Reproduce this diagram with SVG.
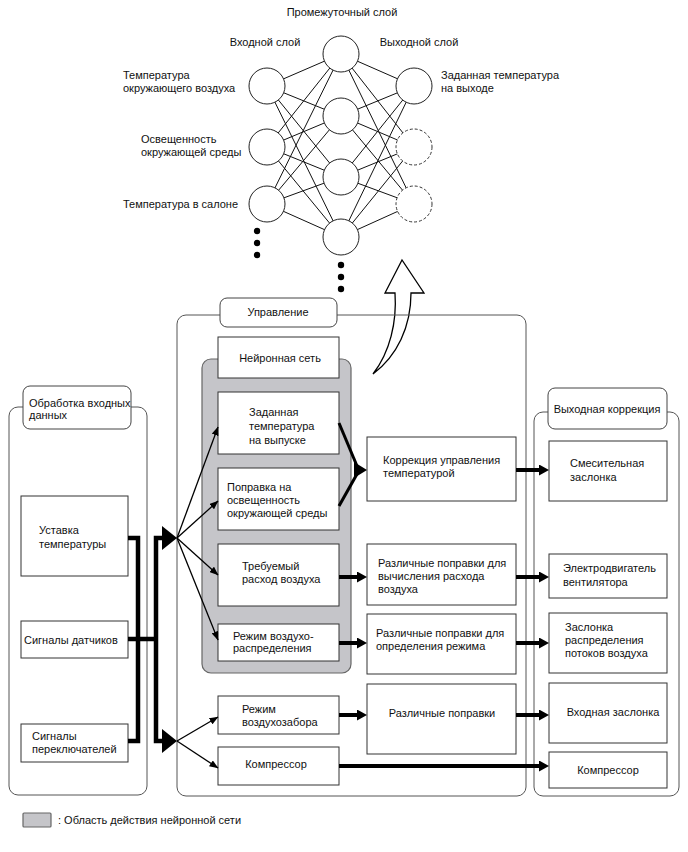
<svg xmlns="http://www.w3.org/2000/svg" width="688" height="852" viewBox="0 0 688 852">
<style>
text{font-family:"Liberation Sans",Arial,sans-serif;font-size:11px;fill:#111}
.m{text-anchor:middle}
.box{fill:#fff;stroke:#333;stroke-width:1}
.cont{fill:none;stroke:#555;stroke-width:1}
.lbl{fill:#fff;stroke:#444;stroke-width:1}
.nn{fill:#c5c5c9;stroke:#666;stroke-width:1.2}
.node{fill:#fff;stroke:#222;stroke-width:1}
.dash{fill:#fff;stroke:#333;stroke-width:1;stroke-dasharray:3,2}
.w{stroke:#111;stroke-width:1}
.thin{stroke:#000;stroke-width:1.3;fill:none;marker-end:url(#ah)}
.thick{stroke:#000;stroke-width:4;fill:none;marker-end:url(#ahk)}
.bus{stroke:#000;stroke-width:4.5;fill:none}
</style>
<defs>
<marker id="ah" markerUnits="userSpaceOnUse" markerWidth="9" markerHeight="7" refX="8.5" refY="3.5" orient="auto"><path d="M0,0 L9,3.5 L0,7 z" fill="#000"/></marker>
<marker id="ahk" markerUnits="userSpaceOnUse" markerWidth="10" markerHeight="11" refX="0" refY="5.5" orient="auto"><path d="M0,0 L10,5.5 L0,11 z" fill="#000"/></marker>
</defs>
<rect width="688" height="852" fill="#fff"/>

<!-- Neural network picture -->
<g id="nn-diagram">
<g id="nn-weights">
<line class="w" x1="267" y1="86" x2="341" y2="54"/><line class="w" x1="267" y1="86" x2="341" y2="116"/><line class="w" x1="267" y1="86" x2="341" y2="177"/><line class="w" x1="267" y1="86" x2="341" y2="237"/>
<line class="w" x1="267" y1="147" x2="341" y2="54"/><line class="w" x1="267" y1="147" x2="341" y2="116"/><line class="w" x1="267" y1="147" x2="341" y2="177"/><line class="w" x1="267" y1="147" x2="341" y2="237"/>
<line class="w" x1="267" y1="204" x2="341" y2="54"/><line class="w" x1="267" y1="204" x2="341" y2="116"/><line class="w" x1="267" y1="204" x2="341" y2="177"/><line class="w" x1="267" y1="204" x2="341" y2="237"/>
<line class="w" x1="341" y1="54" x2="414" y2="86"/><line class="w" x1="341" y1="54" x2="414" y2="147"/><line class="w" x1="341" y1="54" x2="414" y2="204"/>
<line class="w" x1="341" y1="116" x2="414" y2="86"/><line class="w" x1="341" y1="116" x2="414" y2="147"/><line class="w" x1="341" y1="116" x2="414" y2="204"/>
<line class="w" x1="341" y1="177" x2="414" y2="86"/><line class="w" x1="341" y1="177" x2="414" y2="147"/><line class="w" x1="341" y1="177" x2="414" y2="204"/>
<line class="w" x1="341" y1="237" x2="414" y2="86"/><line class="w" x1="341" y1="237" x2="414" y2="147"/><line class="w" x1="341" y1="237" x2="414" y2="204"/>
</g>
<g id="nn-input"><circle class="node" cx="267" cy="86" r="18"/><circle class="node" cx="267" cy="147" r="18"/><circle class="node" cx="267" cy="204" r="18"/>
<circle cx="257" cy="231" r="3.2" fill="#000"/><circle cx="257" cy="243" r="3.2" fill="#000"/><circle cx="257" cy="255" r="3.2" fill="#000"/></g>
<g id="nn-hidden"><circle class="node" cx="341" cy="54" r="18"/><circle class="node" cx="341" cy="116" r="18"/><circle class="node" cx="341" cy="177" r="18"/><circle class="node" cx="341" cy="237" r="18"/>
<circle cx="341" cy="265" r="3.2" fill="#000"/><circle cx="341" cy="277" r="3.2" fill="#000"/><circle cx="341" cy="289" r="3.2" fill="#000"/></g>
<g id="nn-output"><circle class="node" cx="414" cy="86" r="18"/><circle class="dash" cx="414" cy="147" r="18"/><circle class="dash" cx="414" cy="204" r="18"/></g>
<text class="m" x="342" y="16">Промежуточный слой</text>
<text class="m" x="265" y="46">Входной слой</text>
<text class="m" x="419" y="46">Выходной слой</text>
<text x="123" y="79">Температура</text><text x="123" y="92">окружающего воздуха</text>
<text x="141" y="143">Освещенность</text><text x="141" y="156">окружающей среды</text>
<text x="123" y="208">Температура в салоне</text>
<text x="441" y="79">Заданная температура</text><text x="441" y="92">на выходе</text>
</g>

<!-- big curved arrow -->
<g id="up-arrow"><path d="M373,374 C390,352 397,322 395,293 L385,293 L402,260 L424,293 L411,293 C411,327 397,356 373,374 Z" fill="#fff" stroke="#000" stroke-width="1.3" stroke-linejoin="miter"/></g>

<!-- Containers -->
<g id="input-processing">
<rect class="cont" x="9" y="407" width="138" height="388" rx="9"/>
<rect class="lbl" x="23" y="386" width="108" height="43" rx="7"/>
<text x="29" y="407">Обработка входных</text><text x="29" y="419">данных</text>
</g>
<g id="control">
<rect class="cont" x="177" y="315" width="349" height="481" rx="9"/>
<rect class="lbl" x="220" y="298" width="117" height="29" rx="7"/>
<text class="m" x="278" y="316">Управление</text>
</g>
<g id="output-correction">
<rect class="cont" x="534" y="412" width="145" height="384" rx="9"/>
<rect class="lbl" x="548" y="388" width="119" height="41" rx="7"/>
<text class="m" x="607" y="413">Выходная коррекция</text>
</g>
<g id="nn-area"><rect class="nn" x="202" y="359" width="149" height="314" rx="9"/></g>

<!-- Input boxes -->
<g id="setpoint"><rect class="box" x="21" y="496" width="107" height="80"/><text x="39" y="534">Уставка</text><text x="39" y="548">температуры</text></g>
<g id="sensors"><rect class="box" x="21" y="621" width="107" height="37"/><text x="24" y="644">Сигналы датчиков</text></g>
<g id="switches"><rect class="box" x="21" y="724" width="107" height="38"/><text x="32" y="740">Сигналы</text><text x="32" y="753">переключателей</text></g>

<!-- Control boxes -->
<g id="nn-title"><rect class="box" x="218" y="337" width="121" height="41"/><text class="m" x="280" y="362">Нейронная сеть</text></g>
<g id="target-temp"><rect class="box" x="218" y="392" width="121" height="62"/><text x="249" y="416">Заданная</text><text x="249" y="430">температура</text><text x="249" y="444">на выпуске</text></g>
<g id="light-corr"><rect class="box" x="218" y="468" width="121" height="62"/><text x="227" y="491">Поправка на</text><text x="227" y="504">освещенность</text><text x="227" y="517">окружающей среды</text></g>
<g id="airflow"><rect class="box" x="218" y="544" width="121" height="62"/><text x="242" y="570">Требуемый</text><text x="242" y="583">расход воздуха</text></g>
<g id="air-dist"><rect class="box" x="218" y="624" width="121" height="37"/><text x="233" y="640">Режим воздухо-</text><text x="233" y="652">распределения</text></g>
<g id="intake-mode"><rect class="box" x="218" y="696" width="121" height="38"/><text x="242" y="713">Режим</text><text x="242" y="726">воздухозабора</text></g>
<g id="compressor-ctl"><rect class="box" x="218" y="747" width="121" height="38"/><text class="m" x="276" y="768">Компрессор</text></g>

<g id="temp-corr"><rect class="box" x="367" y="437" width="149" height="64"/><text x="383" y="464">Коррекция управления</text><text x="383" y="477">температурой</text></g>
<g id="flow-corr"><rect class="box" x="367" y="544" width="149" height="61"/><text x="378" y="567">Различные поправки для</text><text x="378" y="580">вычисления расхода</text><text x="378" y="593">воздуха</text></g>
<g id="mode-corr"><rect class="box" x="367" y="614" width="149" height="60"/><text x="376" y="637">Различные поправки для</text><text x="376" y="650">определения режима</text></g>
<g id="misc-corr"><rect class="box" x="367" y="684" width="149" height="70"/><text class="m" x="442" y="717">Различные поправки</text></g>

<!-- Output boxes -->
<g id="mix-damper"><rect class="box" x="549" y="441" width="118" height="60"/><text x="570" y="467">Смесительная</text><text x="570" y="481">заслонка</text></g>
<g id="fan-motor"><rect class="box" x="549" y="554" width="118" height="44"/><text x="563" y="572">Электродвигатель</text><text x="563" y="586">вентилятора</text></g>
<g id="dist-damper"><rect class="box" x="549" y="613" width="118" height="60"/><text x="565" y="631">Заслонка</text><text x="565" y="644">распределения</text><text x="565" y="657">потоков воздуха</text></g>
<g id="intake-damper"><rect class="box" x="549" y="683" width="118" height="60"/><text class="m" x="613" y="716">Входная заслонка</text></g>
<g id="compressor-out"><rect class="box" x="549" y="752" width="118" height="36"/><text class="m" x="608" y="774">Компрессор</text></g>

<!-- Connectors -->
<g id="connectors">
<path class="bus" d="M128,538 H138 V741 H128"/>
<path class="bus" d="M128,639 H156"/>
<path class="bus" d="M164,538 H156 V741 H164"/>
<polygon points="162,526 177,538 162,550" fill="#000"/>
<polygon points="162,729 177,741 162,753" fill="#000"/>
<line class="thin" x1="177" y1="538" x2="218" y2="427"/>
<line class="thin" x1="177" y1="538" x2="218" y2="501"/>
<line class="thin" x1="177" y1="538" x2="218" y2="575"/>
<line class="thin" x1="177" y1="538" x2="218" y2="640"/>
<line class="thin" x1="177" y1="741" x2="218" y2="717"/>
<line class="thin" x1="177" y1="741" x2="218" y2="768"/>
<path d="M339,423 L357,466" stroke="#000" stroke-width="3" fill="none"/>
<path d="M339,506 L357,474" stroke="#000" stroke-width="3" fill="none"/>
<polygon points="354,462 367,470 354,478" fill="#000"/>
<line class="thick" x1="516" y1="470" x2="539" y2="470"/>
<line class="thick" x1="339" y1="577" x2="357" y2="577"/>
<line class="thick" x1="516" y1="577" x2="539" y2="577"/>
<line class="thick" x1="339" y1="643" x2="357" y2="643"/>
<line class="thick" x1="516" y1="643" x2="539" y2="643"/>
<line class="thick" x1="339" y1="715" x2="357" y2="715"/>
<line class="thick" x1="516" y1="715" x2="539" y2="715"/>
<line class="thick" x1="339" y1="766" x2="539" y2="766"/>
</g>

<!-- Legend -->
<g id="legend"><rect class="nn" x="23" y="813" width="28" height="14" rx="1"/><text x="58" y="824">: Область действия нейронной сети</text></g>
</svg>
